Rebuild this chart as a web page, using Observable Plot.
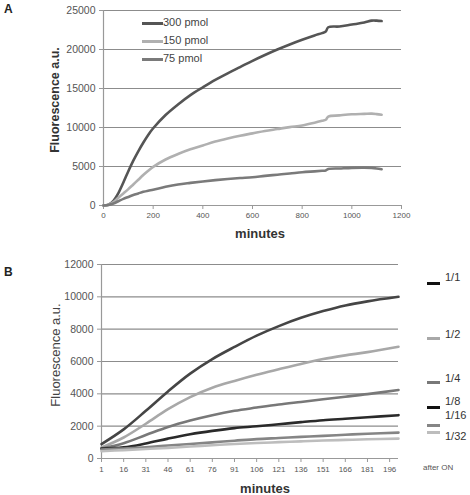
<!DOCTYPE html>
<html><head><meta charset="utf-8">
<script src="https://cdn.jsdelivr.net/npm/d3@7"></script>
<script src="https://cdn.jsdelivr.net/npm/@observablehq/plot@0.6"></script>
<style>
body{margin:0;background:#fff;font-family:"Liberation Sans",Arial,sans-serif;}
#wrap{position:relative;width:470px;height:495px;overflow:hidden;}
.abs{position:absolute;white-space:nowrap;}
.panel{position:absolute;left:0;}
.lg{position:absolute;height:3px;}
</style></head><body>
<div id="wrap"></div>
<script>
// ---- Panel A data ----
const minutesA = [0,20,40,60,80,100,120,140,160,180,200,250,300,350,400,450,500,550,600,650,700,750,800,850,880,895,905,950,1000,1050,1080,1100,1120];
const pmol300 = [0,100,600,1600,2950,4400,5750,6950,8050,9050,9900,11600,12950,14150,15150,16100,16950,17750,18550,19300,20000,20650,21250,21800,22100,22300,22850,22950,23200,23450,23700,23700,23650];
const pmol150 = [0,100,450,1000,1550,2100,2700,3300,3900,4450,4950,5900,6600,7200,7700,8200,8600,8950,9250,9550,9800,10050,10260,10600,10850,10990,11400,11550,11700,11750,11780,11720,11630];
const pmol75  = [0,60,250,550,850,1100,1350,1550,1750,1900,2020,2400,2700,2900,3080,3250,3400,3520,3620,3800,3950,4100,4270,4380,4450,4490,4680,4750,4830,4850,4820,4750,4650];
const seriesA = ["300 pmol","150 pmol","75 pmol"];
const colorsA = ["#555555","#b0b0b0","#7a7a7a"];
const ticksAx = [0,200,400,600,800,1000,1200];
const ticksAy = [0,5000,10000,15000,20000,25000];

// ---- Panel B data ----
const minutesB = [1,16,31,46,61,76,91,106,121,136,151,166,181,202];
const d1_1  = [890,1800,2950,4150,5250,6150,6900,7600,8190,8700,9120,9470,9720,10000];
const d1_2  = [680,1300,2150,3050,3800,4380,4800,5180,5520,5850,6150,6380,6580,6910];
const d1_4  = [620,950,1450,1950,2350,2680,2950,3150,3340,3500,3660,3820,3980,4240];
const d1_8  = [620,690,930,1230,1500,1710,1880,1990,2120,2250,2370,2460,2550,2680];
const d1_16 = [560,620,700,800,900,1000,1100,1200,1270,1340,1400,1470,1530,1600];
const d1_32 = [450,520,590,660,740,820,900,960,1010,1060,1110,1150,1190,1230];
const seriesB = ["1/1","1/2","1/4","1/8","1/16","1/32"];
const colorsB = ["#454545","#a8a8a8","#787878","#2a2a2a","#858585","#bdbdbd"];
const legendColorsB = ["#111111","#a8a8a8","#787878","#111111","#858585","#bdbdbd"];
const ticksBx = [1,16,31,46,61,76,91,106,121,136,151,166,181,196];
const ticksBy = [0,2000,4000,6000,8000,10000,12000];

const wrap = document.getElementById("wrap");
const font = '"Liberation Sans",Arial,sans-serif';
const fmt = d => String(d);

function tidy(xs, arrs, names){
  const out=[];
  arrs.forEach((a,k)=>a.forEach((v,i)=>out.push({x:xs[i],y:v,s:names[k]})));
  return out;
}

// Panel A
const dataA = tidy(minutesA,[pmol300,pmol150,pmol75],seriesA);
const plotA = Plot.plot({
  width:470,height:245,
  marginLeft:103,marginRight:69,marginTop:10,marginBottom:40,
  style:{fontFamily:font,background:"transparent"},
  x:{domain:[0,1200]},
  y:{domain:[0,25000]},
  color:{domain:seriesA,range:colorsA},
  marks:[
    Plot.ruleY(ticksAy.filter(d=>d>0),{stroke:"#8c8c8c",strokeWidth:1.2}),
    Plot.axisX(ticksAx,{tickSize:4,stroke:"#999",fill:"#555",fontSize:8,label:null,tickPadding:3,tickFormat:fmt}),
    Plot.axisY(ticksAy,{tickSize:4,stroke:"#999",fill:"#555",fontSize:10.5,label:null,tickPadding:4,tickFormat:fmt}),
    Plot.ruleX([0],{stroke:"#999",strokeWidth:1.2}),
    Plot.ruleY([0],{stroke:"#999",strokeWidth:1.2}),
    Plot.line(dataA,{x:"x",y:"y",z:"s",stroke:"s",strokeWidth:2.6,curve:"catmull-rom"})
  ]
});
plotA.classList.add("panel"); plotA.style.top="0px";
wrap.appendChild(plotA);

// Panel B
const dataB = tidy(minutesB,[d1_1,d1_2,d1_4,d1_8,d1_16,d1_32],seriesB);
const plotB = Plot.plot({
  width:470,height:245,
  marginLeft:101,marginRight:72,marginTop:14,marginBottom:37,
  style:{fontFamily:font,background:"transparent"},
  x:{domain:[1,202]},
  y:{domain:[0,12000]},
  color:{domain:seriesB,range:colorsB},
  marks:[
    Plot.ruleY(ticksBy.filter(d=>d>0),{stroke:"#8c8c8c",strokeWidth:1.2}),
    Plot.axisX(ticksBx,{tickSize:4,stroke:"#999",fill:"#555",fontSize:8,label:null,tickPadding:4,tickFormat:fmt}),
    Plot.axisY(ticksBy,{tickSize:4,stroke:"#999",fill:"#555",fontSize:10.5,label:null,tickPadding:4,tickFormat:fmt}),
    Plot.ruleX([1],{stroke:"#999",strokeWidth:1.2}),
    Plot.ruleY([0],{stroke:"#999",strokeWidth:1.2}),
    Plot.line(dataB,{x:"x",y:"y",z:"s",stroke:"s",strokeWidth:2.6,curve:"catmull-rom"})
  ]
});
plotB.classList.add("panel"); plotB.style.top="250px";
wrap.appendChild(plotB);

function addText(txt,left,top,css){
  const d=document.createElement("div");
  d.className="abs"; d.textContent=txt;
  d.style.left=left+"px"; d.style.top=top+"px";
  Object.assign(d.style,css||{});
  wrap.appendChild(d); return d;
}
// Panel letters
addText("A",4,2,{fontWeight:"bold",fontSize:"12px",color:"#222"});
addText("B",4,265,{fontWeight:"bold",fontSize:"12px",color:"#222"});
// Axis titles
addText("Fluorescence a.u.",55,100,{fontWeight:"bold",fontSize:"12.5px",color:"#333",transform:"translate(-50%,-50%) rotate(-90deg)"});
addText("minutes",260,233,{fontWeight:"bold",fontSize:"13px",color:"#333",transform:"translate(-50%,-50%)"});
addText("Fluorescence a.u.",55,355,{fontSize:"13px",color:"#444",transform:"translate(-50%,-50%) rotate(-90deg)"});
addText("minutes",265,488,{fontWeight:"bold",fontSize:"13px",color:"#333",transform:"translate(-50%,-50%)"});
// Legend A
const lgAy=[23,41,59];
seriesA.forEach((s,i)=>{
  const l=document.createElement("div"); l.className="lg";
  l.style.left="142px"; l.style.top=(lgAy[i]-1.5)+"px"; l.style.width="21px"; l.style.background=colorsA[i];
  wrap.appendChild(l);
  addText(s,163,lgAy[i]-7,{fontSize:"11px",color:"#444"});
});
// Legend B
const lgBline=[283,338,382,407,425,432];
const lgBtext=[278,335,379,402,416,437];
seriesB.forEach((s,i)=>{
  const l=document.createElement("div"); l.className="lg";
  l.style.left="427px"; l.style.top=(lgBline[i]-1.5)+"px"; l.style.width="13px"; l.style.background=legendColorsB[i];
  wrap.appendChild(l);
  addText(s,445,lgBtext[i]-7,{fontSize:"11px",color:"#333"});
});
addText("after ON",423,463,{fontSize:"8px",color:"#555"});
</script>
</body></html>
